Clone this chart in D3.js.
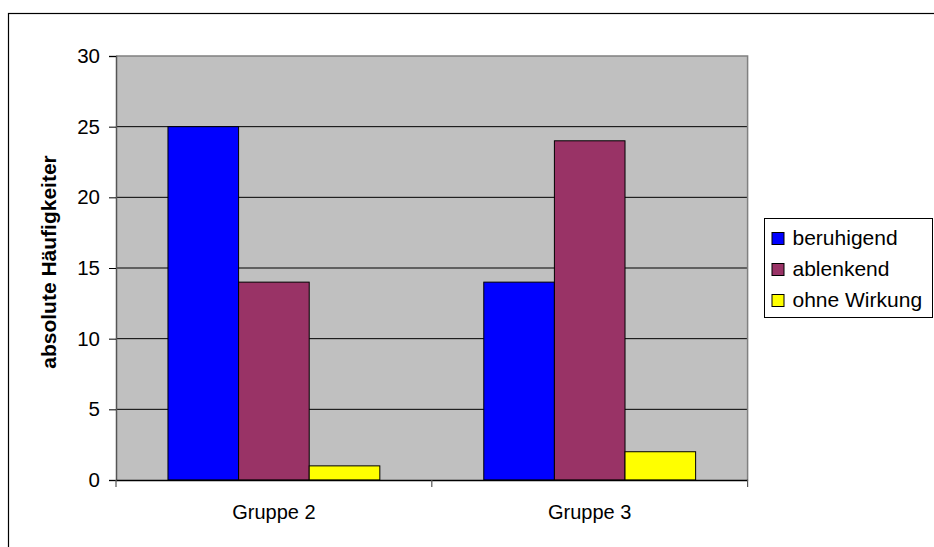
<!DOCTYPE html>
<html>
<head>
<meta charset="utf-8">
<script src="https://cdn.jsdelivr.net/npm/d3@7"></script>
<style>
  html, body { margin: 0; padding: 0; background: #fff; }
  svg { display: block; font-family: "Liberation Sans", Arial, sans-serif; }
</style>
</head>
<body>
<svg id="chart" width="934" height="547"></svg>
<script>
// Werte je Gruppe und Wirkung
const categories = ["Gruppe 2", "Gruppe 3"];
const seriesNames = ["beruhigend", "ablenkend", "ohne Wirkung"];
const beruhigend = [25, 14];
const ablenkend = [14, 24];
const ohneWirkung = [1, 2];
const seriesColors = ["#0000FF", "#993366", "#FFFF00"];
const yTicks = [0, 5, 10, 15, 20, 25, 30];
const yTitle = "absolute Häufigkeiter";

const seriesValues = [beruhigend, ablenkend, ohneWirkung];

const svg = d3.select("#chart");
const plot = { left: 116, top: 56, right: 747.6, bottom: 480 };

// Rahmen um das gesamte Diagramm
svg.append("rect")
  .attr("x", 8.5).attr("y", 13.5)
  .attr("width", 950).attr("height", 560)
  .attr("fill", "#fff").attr("stroke", "#000").attr("stroke-width", 1.2);

const x = d3.scaleBand().domain(categories).range([plot.left, plot.right]).paddingInner(0).paddingOuter(0);
const inner = d3.scaleBand().domain(seriesNames).range([0, x.bandwidth()]).paddingInner(0).paddingOuter(0.736);
const y = d3.scaleLinear().domain([0, 30]).range([plot.bottom, plot.top]);

// Zeichenfläche
svg.append("rect")
  .attr("x", plot.left).attr("y", plot.top)
  .attr("width", plot.right - plot.left).attr("height", plot.bottom - plot.top)
  .attr("fill", "#C0C0C0");

// Gitternetzlinien
svg.append("g").selectAll("line")
  .data(yTicks.filter(v => v > 0 && v < 30))
  .join("line")
  .attr("x1", plot.left).attr("x2", plot.right)
  .attr("y1", d => y(d)).attr("y2", d => y(d))
  .attr("stroke", "#000").attr("stroke-width", 1);

// Rahmen der Zeichenfläche (oben und rechts)
svg.append("path")
  .attr("d", `M${plot.left},${plot.top}H${plot.right}V${plot.bottom}`)
  .attr("fill", "none").attr("stroke", "#808080").attr("stroke-width", 1.5);

// Balken
const groups = svg.append("g").selectAll("g")
  .data(categories)
  .join("g")
  .attr("transform", d => `translate(${x(d)},0)`);

groups.selectAll("rect")
  .data((c, ci) => seriesNames.map((s, si) => ({ s, v: seriesValues[si][ci], color: seriesColors[si] })))
  .join("rect")
  .attr("x", d => inner(d.s))
  .attr("width", inner.bandwidth())
  .attr("y", d => y(d.v))
  .attr("height", d => y(0) - y(d.v))
  .attr("fill", d => d.color)
  .attr("stroke", "#000").attr("stroke-width", 1);

// y-Achse
const yAxis = svg.append("g")
  .attr("transform", `translate(${plot.left},0)`)
  .call(d3.axisLeft(y).tickValues(yTicks).tickSize(7).tickPadding(9));
yAxis.select(".domain").attr("stroke", "#555").attr("stroke-width", 1.5);
yAxis.selectAll(".tick line").attr("stroke", "#000");
yAxis.selectAll(".tick text")
  .attr("font-size", 20.5).attr("fill", "#000")
  .attr("font-family", "Liberation Sans, Arial, sans-serif");

// x-Achse
const xAxis = svg.append("g")
  .attr("transform", `translate(0,${plot.bottom})`)
  .call(d3.axisBottom(x).tickSize(0).tickPadding(25));
xAxis.select(".domain").attr("stroke", "#000").attr("stroke-width", 1.5);
xAxis.selectAll(".tick text")
  .attr("font-size", 20).attr("fill", "#000")
  .attr("font-family", "Liberation Sans, Arial, sans-serif");

// Trennstriche zwischen den Kategorien
const sepPositions = [x(categories[0]), x(categories[1]), x(categories[1]) + x.bandwidth()];
svg.append("g").selectAll("line")
  .data(sepPositions)
  .join("line")
  .attr("x1", d => d).attr("x2", d => d)
  .attr("y1", plot.bottom).attr("y2", plot.bottom + 7)
  .attr("stroke", "#555").attr("stroke-width", 1.2);

// Achsentitel
svg.append("text")
  .attr("transform", `translate(56,${(plot.top + plot.bottom) / 2 - 6}) rotate(-90)`)
  .attr("text-anchor", "middle")
  .attr("font-size", 21).attr("font-weight", "bold")
  .text(yTitle);

// Legende
const legend = svg.append("g").attr("transform", "translate(764.5,218.5)");
legend.append("rect")
  .attr("width", 168).attr("height", 99)
  .attr("fill", "#fff").attr("stroke", "#000").attr("stroke-width", 1);
const items = legend.selectAll("g.item")
  .data(seriesNames)
  .join("g").attr("class", "item")
  .attr("transform", (d, i) => `translate(0,${14 + i * 31})`);
items.append("rect")
  .attr("x", 7.5).attr("y", 0)
  .attr("width", 12).attr("height", 12)
  .attr("fill", (d, i) => seriesColors[i])
  .attr("stroke", "#000").attr("stroke-width", 1);
items.append("text")
  .attr("x", 28).attr("y", 12.5)
  .attr("font-size", 21)
  .text(d => d);
</script>
</body>
</html>
